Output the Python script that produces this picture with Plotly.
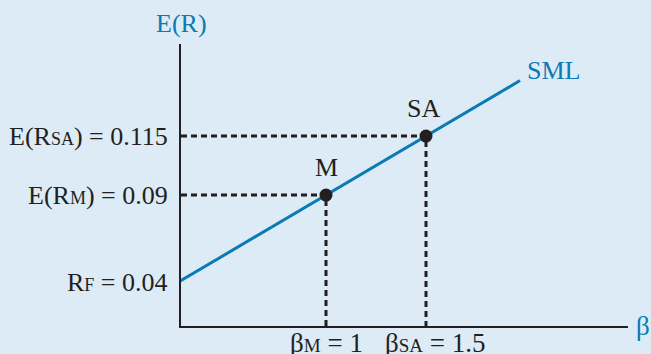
import plotly.graph_objects as go

# values (schematic SML chart)
rf = 0.04
point_names = ["M", "SA"]
point_beta = [1.0, 1.5]
point_er = [0.09, 0.115]

# SML drawn through the risk-free rate and the two points
sml_beta = [0.0, 1.0, 1.5, 1.97]
sml_er = [0.04, 0.09, 0.115, 0.1385]


def small(s, px):
    # small-caps style subscript: shrunk but kept close to the baseline
    return f"<span style='font-size:{px}px'>{s}</span>"


left_labels = [f"E(R{small('M', 18)}) = 0.09", f"E(R{small('SA', 18)}) = 0.115"]
bottom_labels = [f"β{small('M', 19)} = 1", f"β{small('SA', 19)} = 1.5"]
rf_label = f"R{small('F', 18)} = 0.04"

x_range = [0.275, 2.51]
y_range = [0.0345, 0.154]

blue = "#0b7ab5"
ink = "#231f20"
bg = "#dcebf5"
serif = "Liberation Serif"

fig = go.Figure()

# dotted guides from the axes to each point
for b, r in zip(point_beta, point_er):
    fig.add_scatter(
        x=[x_range[0], b, b],
        y=[r, r, y_range[0]],
        mode="lines",
        line=dict(color=ink, width=3, dash="6px,4px"),
        hoverinfo="skip",
        showlegend=False,
    )

fig.add_scatter(
    x=sml_beta,
    y=sml_er,
    mode="lines",
    line=dict(color=blue, width=3),
    showlegend=False,
)

fig.add_scatter(
    x=point_beta,
    y=point_er,
    mode="markers",
    marker=dict(color=ink, size=13),
    showlegend=False,
)

annotations = []
for txt, r in zip(left_labels, point_er):
    annotations.append(dict(x=x_range[0], y=r, text=txt, xanchor="right",
                            yanchor="middle", xshift=-11, showarrow=False))

# R_F label sits where the SML meets the vertical axis
y_cross = sml_er[0] + (sml_er[1] - sml_er[0]) / (sml_beta[1] - sml_beta[0]) * x_range[0]
annotations.append(dict(x=x_range[0], y=y_cross, text=rf_label, xanchor="right",
                        yanchor="middle", xshift=-11, yshift=-2, showarrow=False))

for name, b, r, dx in zip(point_names, point_beta, point_er, [0, -3]):
    annotations.append(dict(x=b, y=r, text=name, xanchor="center", yanchor="bottom",
                            xshift=dx, yshift=11, showarrow=False))

for txt, b, dx in zip(bottom_labels, point_beta, [0, 9]):
    annotations.append(dict(x=b, y=0, yref="paper", text=txt, xanchor="center",
                            yanchor="top", xshift=dx, yshift=0, showarrow=False,
                            font=dict(size=27)))

annotations.append(dict(x=sml_beta[-1], y=sml_er[-1], text="SML", xanchor="left",
                        yanchor="middle", xshift=5, yshift=10, showarrow=False,
                        font=dict(color=blue)))
annotations.append(dict(x=x_range[0], y=1, yref="paper", text="E(R)", xanchor="center",
                        yanchor="bottom", yshift=4, showarrow=False,
                        font=dict(color=blue)))
annotations.append(dict(x=1, xref="paper", y=0, yref="paper", text="β", xanchor="left",
                        yanchor="middle", xshift=6, showarrow=False,
                        font=dict(color=blue, size=27)))

fig.update_layout(
    width=651,
    height=354,
    margin=dict(l=181, r=23, t=44, b=28),
    paper_bgcolor=bg,
    plot_bgcolor=bg,
    font=dict(family=serif, size=26, color=ink),
    annotations=annotations,
)

fig.update_xaxes(range=x_range, showgrid=False, zeroline=False, showticklabels=False,
                 showline=True, linecolor=ink, linewidth=2)
fig.update_yaxes(range=y_range, showgrid=False, zeroline=False, showticklabels=False,
                 showline=True, linecolor=ink, linewidth=2)

# drop the browser's default page margin so the figure fills the window
fig.write_html("out.html", config={"displayModeBar": False},
               post_script="document.body.style.margin='0';")
